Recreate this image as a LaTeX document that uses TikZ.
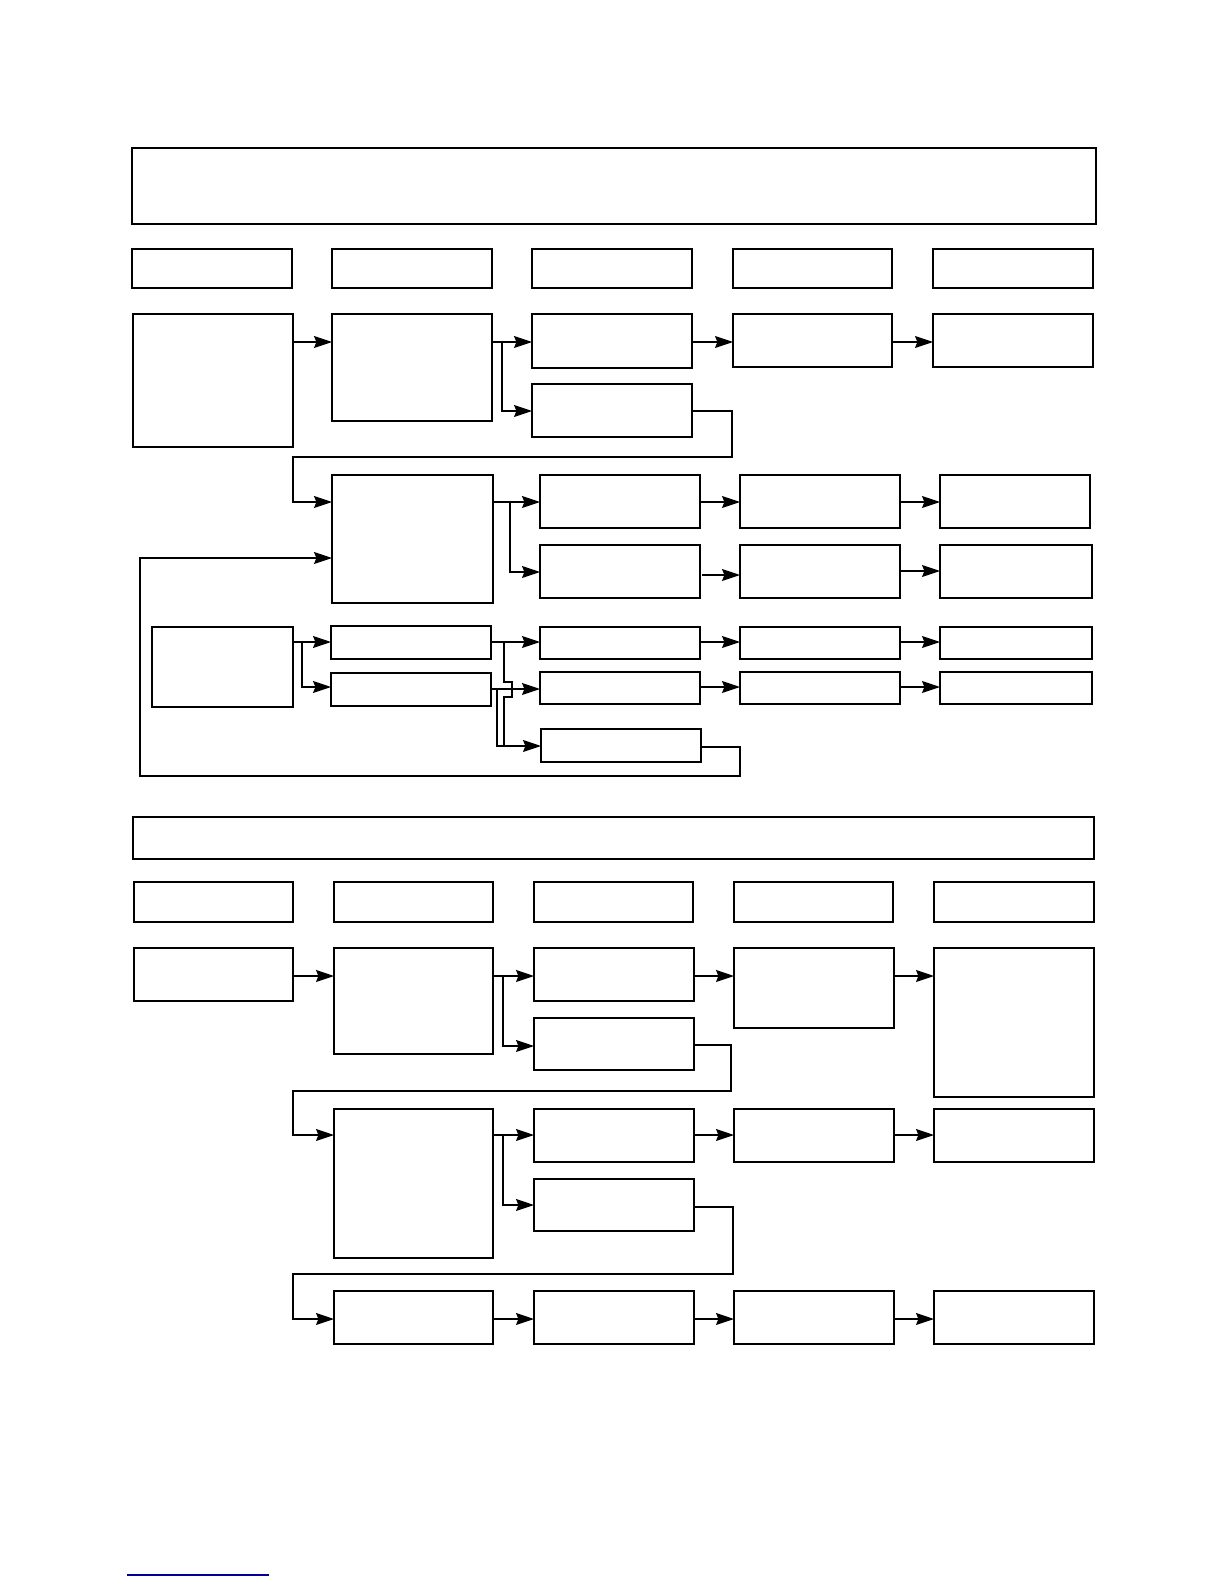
\documentclass[tikz,border=0pt]{standalone}
\usetikzlibrary{arrows.meta}
\begin{document}
\begin{tikzpicture}[x=0.5pt,y=-0.5pt,
  bx/.style={draw,line width=0.55pt,inner sep=0pt,outer sep=0pt},
  ln/.style={line width=0.55pt},
  arr/.style={line width=0.55pt,-{Stealth[length=9pt,width=6pt,inset=1.2pt]}}]
\useasboundingbox (0,0) rectangle (1224,1584);
\newcommand{\bx}[5]{\node[bx,minimum width={(#4-#2)*0.5pt},minimum height={(#5-#3)*0.5pt}] (#1) at ({(#2+#4)/2},{(#3+#5)/2}) {};}
% ---------- top section ----------
\bx{H1}{132}{148}{1096}{224}
\bx{ha1}{132}{249}{292}{288}
\bx{ha2}{332}{249}{492}{288}
\bx{ha3}{532}{249}{692}{288}
\bx{ha4}{733}{249}{892}{288}
\bx{ha5}{933}{249}{1093}{288}
\bx{A1}{133}{314}{293}{447}
\bx{A2}{332}{314}{492}{421}
\bx{A3}{532}{314}{692}{368}
\bx{A3b}{532}{384}{692}{437}
\bx{A4}{733}{314}{892}{367}
\bx{A5}{933}{314}{1093}{367}
\draw[arr] (A1.east|-0,342) -- (A2.west|-0,342);
\draw[arr] (A2.east|-0,342) -- (A3.west|-0,342);
\draw[arr] (502,342) -- (502,411) -- (A3b.west|-0,411);
\draw[arr] (A3.east|-0,342) -- (A4.west|-0,342);
\draw[arr] (A4.east|-0,342) -- (A5.west|-0,342);
\bx{B1}{332}{475}{493}{603}
\bx{B2}{540}{475}{700}{528}
\bx{B2b}{540}{545}{700}{598}
\bx{B3}{740}{475}{900}{528}
\bx{B3b}{740}{545}{900}{598}
\bx{B4}{940}{475}{1090}{528}
\bx{B4b}{940}{545}{1092}{598}
\draw[arr] (A3b.east|-0,411) -- (732,411) -- (732,457) -- (293,457) -- (293,502) -- (B1.west|-0,502);
\draw[arr] (B1.east|-0,502) -- (B2.west|-0,502);
\draw[arr] (510,502) -- (510,572) -- (B2b.west|-0,572);
\draw[arr] (B2.east|-0,502) -- (B3.west|-0,502);
\draw[arr] (B3.east|-0,502) -- (B4.west|-0,502);
\draw[arr] (702,575) -- (B3b.west|-0,575);
\draw[arr] (B3b.east|-0,571) -- (B4b.west|-0,571);
\bx{C1}{152}{627}{293}{707}
\bx{C2a}{331}{626}{491}{659}
\bx{C2b}{331}{673}{491}{706}
\bx{C3a}{540}{627}{700}{659}
\bx{C3b}{540}{672}{700}{704}
\bx{C3c}{541}{729}{701}{762}
\bx{C4a}{740}{627}{900}{659}
\bx{C4b}{740}{672}{900}{704}
\bx{C5a}{940}{627}{1092}{659}
\bx{C5b}{940}{672}{1092}{704}
\draw[arr] (C1.east|-0,642) -- (C2a.west|-0,642);
\draw[arr] (302,642) -- (302,687) -- (C2b.west|-0,687);
\draw[arr] (C2a.east|-0,642) -- (C3a.west|-0,642);
\draw[ln] (504,642) -- (504,682) -- (512,682) -- (512,697) -- (504,697) -- (504,746);
\draw[arr] (C2b.east|-0,689) -- (C3b.west|-0,689);
\draw[arr] (497,689) -- (497,746) -- (C3c.west|-0,746);
\draw[arr] (C3a.east|-0,642) -- (C4a.west|-0,642);
\draw[arr] (C4a.east|-0,642) -- (C5a.west|-0,642);
\draw[arr] (C3b.east|-0,687) -- (C4b.west|-0,687);
\draw[arr] (C4b.east|-0,687) -- (C5b.west|-0,687);
\draw[arr] (C3c.east|-0,747) -- (740,747) -- (740,776) -- (140,776) -- (140,558) -- (B1.west|-0,558);
% ---------- bottom section ----------
\bx{H2}{133}{817}{1094}{859}
\bx{hb1}{134}{882}{293}{922}
\bx{hb2}{334}{882}{493}{922}
\bx{hb3}{534}{882}{693}{922}
\bx{hb4}{734}{882}{893}{922}
\bx{hb5}{934}{882}{1094}{922}
\bx{D1}{134}{948}{293}{1001}
\bx{D2}{334}{948}{493}{1054}
\bx{D3}{534}{948}{694}{1001}
\bx{D3b}{534}{1018}{694}{1070}
\bx{D4}{734}{948}{894}{1028}
\bx{D5}{934}{948}{1094}{1097}
\draw[arr] (D1.east|-0,976) -- (D2.west|-0,976);
\draw[arr] (D2.east|-0,976) -- (D3.west|-0,976);
\draw[arr] (503,976) -- (503,1046) -- (D3b.west|-0,1046);
\draw[arr] (D3.east|-0,976) -- (D4.west|-0,976);
\draw[arr] (D4.east|-0,976) -- (D5.west|-0,976);
\bx{E2}{334}{1109}{493}{1258}
\bx{E3}{534}{1109}{694}{1162}
\bx{E3b}{534}{1179}{694}{1231}
\bx{E4}{734}{1109}{894}{1162}
\bx{E5}{934}{1109}{1094}{1162}
\draw[arr] (D3b.east|-0,1045) -- (731,1045) -- (731,1091) -- (293,1091) -- (293,1135) -- (E2.west|-0,1135);
\draw[arr] (E2.east|-0,1135) -- (E3.west|-0,1135);
\draw[arr] (503,1135) -- (503,1205) -- (E3b.west|-0,1205);
\draw[arr] (E3.east|-0,1135) -- (E4.west|-0,1135);
\draw[arr] (E4.east|-0,1135) -- (E5.west|-0,1135);
\bx{F2}{334}{1291}{493}{1344}
\bx{F3}{534}{1291}{694}{1344}
\bx{F4}{734}{1291}{894}{1344}
\bx{F5}{934}{1291}{1094}{1344}
\draw[arr] (E3b.east|-0,1207) -- (733,1207) -- (733,1274) -- (293,1274) -- (293,1319) -- (F2.west|-0,1319);
\draw[arr] (F2.east|-0,1319) -- (F3.west|-0,1319);
\draw[arr] (F3.east|-0,1319) -- (F4.west|-0,1319);
\draw[arr] (F4.east|-0,1319) -- (F5.west|-0,1319);
% blue rule
\draw[line width=0.8pt,color={rgb,255:red,0;green,0;blue,150}] (127,1575) -- (269,1575);
\end{tikzpicture}
\end{document}
